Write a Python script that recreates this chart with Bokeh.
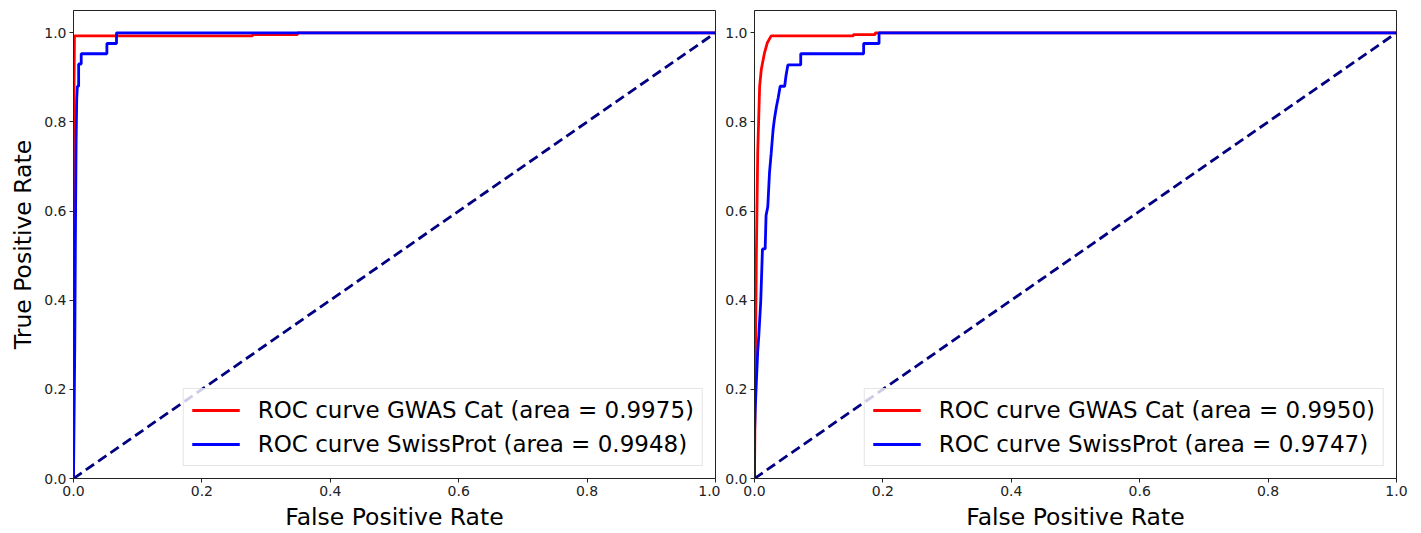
from bokeh.plotting import figure
from bokeh.layouts import row
from bokeh.models import Range1d, FixedTicker, PrintfTickFormatter, Legend, LegendItem
from bokeh.embed import file_html
from bokeh.resources import INLINE

# ---- data ----
left_gwas_fpr = [0.0, 0.0, 0.0015, 0.279, 0.279, 0.349, 0.349, 1.0]
left_gwas_tpr = [0.0, 0.75, 0.993, 0.993, 0.996, 0.996, 1.0, 1.0]
left_gwas_label = "ROC curve GWAS Cat (area = 0.9975)"

left_swiss_fpr = [0.0, 0.002, 0.003, 0.004, 0.005, 0.006, 0.008, 0.008, 0.012, 0.012,
                  0.052, 0.052, 0.067, 0.067, 1.0]
left_swiss_tpr = [0.0, 0.3, 0.55, 0.75, 0.85, 0.88, 0.88, 0.93, 0.93, 0.953,
                  0.953, 0.976, 0.976, 1.0, 1.0]
left_swiss_label = "ROC curve SwissProt (area = 0.9948)"

right_gwas_fpr = [0.0, 0.0005, 0.001, 0.003, 0.005, 0.008, 0.0105, 0.0156, 0.0198, 0.026,
                  0.154, 0.154, 0.188, 0.188, 1.0]
right_gwas_tpr = [0.0, 0.1, 0.21, 0.51, 0.73, 0.88, 0.917, 0.955, 0.977, 0.993,
                  0.993, 0.996, 0.996, 1.0, 1.0]
right_gwas_label = "ROC curve GWAS Cat (area = 0.9950)"

right_swiss_fpr = [0.0, 0.0, 0.001, 0.003, 0.005, 0.0067, 0.0098, 0.0124, 0.0166, 0.018,
                   0.0207, 0.0234, 0.026, 0.029, 0.031, 0.034, 0.037, 0.040, 0.047, 0.049,
                   0.052, 0.072, 0.072, 0.17, 0.17, 0.194, 0.194, 1.0]
right_swiss_tpr = [0.0, 0.1, 0.15, 0.22, 0.285, 0.32, 0.40, 0.515, 0.515, 0.59,
                   0.61, 0.687, 0.73, 0.783, 0.806, 0.833, 0.855, 0.88, 0.88, 0.903,
                   0.928, 0.928, 0.953, 0.953, 0.976, 0.976, 1.0, 1.0]
right_swiss_label = "ROC curve SwissProt (area = 0.9747)"

chance_x = [0.0, 1.0]
chance_y = [0.0, 1.0]

tick_values = [0.0, 0.2, 0.4, 0.6, 0.8, 1.0]
x_label = "False Positive Rate"
y_label = "True Positive Rate"

FONT = "DejaVu Sans"


def make_panel(gwas_fpr, gwas_tpr, gwas_label, swiss_fpr, swiss_tpr, swiss_label,
               width, border_left, border_right, show_ylabel):
    p = figure(width=width, height=533, output_backend="svg", toolbar_location=None,
               x_range=Range1d(0, 1), y_range=Range1d(0, 1.05),
               min_border_left=border_left, min_border_right=border_right,
               min_border_top=10, min_border_bottom=50)
    p.grid.visible = False
    p.outline_line_color = "#222222"
    p.outline_line_width = 1
    p.background_fill_color = "white"
    p.border_fill_color = "white"

    for ax in (p.xaxis[0], p.yaxis[0]):
        ax.ticker = FixedTicker(ticks=tick_values)
        ax.formatter = PrintfTickFormatter(format="%.1f")
        ax.major_tick_out = 4
        ax.major_tick_in = 0
        ax.minor_tick_line_color = None
        ax.axis_line_color = "#222222"
        ax.major_tick_line_color = "#222222"
        ax.major_label_text_font = FONT
        ax.major_label_text_font_size = "14px"
        ax.major_label_text_color = "#222222"
        ax.major_label_standoff = 3
        ax.axis_label_text_font = FONT
        ax.axis_label_text_font_size = "23.5px"
        ax.axis_label_text_font_style = "normal"
        ax.axis_label_text_color = "black"
        ax.axis_label_standoff = 4

    p.xaxis[0].axis_label = x_label
    if show_ylabel:
        p.yaxis[0].axis_label = y_label

    r1 = p.line(gwas_fpr, gwas_tpr, line_color="red", line_width=2.8)
    r2 = p.line(swiss_fpr, swiss_tpr, line_color="blue", line_width=2.8)
    p.line(chance_x, chance_y, line_color="navy", line_width=2.8, line_dash="10 5")

    legend = Legend(items=[LegendItem(label=gwas_label, renderers=[r1]),
                           LegendItem(label=swiss_label, renderers=[r2])],
                    location="bottom_right")
    legend.margin = 12
    legend.padding = 8
    legend.spacing = 8
    legend.glyph_width = 48
    legend.glyph_height = 26
    legend.label_height = 26
    legend.label_standoff = 18
    legend.label_text_font = FONT
    legend.label_text_font_size = "23px"
    legend.label_text_color = "black"
    legend.border_line_color = "#cccccc"
    legend.border_line_width = 1
    legend.background_fill_alpha = 0.8
    p.add_layout(legend, "center")
    return p


left = make_panel(left_gwas_fpr, left_gwas_tpr, left_gwas_label,
                  left_swiss_fpr, left_swiss_tpr, left_swiss_label,
                  width=720, border_left=73, border_right=5, show_ylabel=True)
right = make_panel(right_gwas_fpr, right_gwas_tpr, right_gwas_label,
                   right_swiss_fpr, right_swiss_tpr, right_swiss_label,
                   width=696, border_left=34, border_right=20, show_ylabel=False)

layout = row(left, right)
open("out.html", "w").write(file_html(layout, INLINE))
